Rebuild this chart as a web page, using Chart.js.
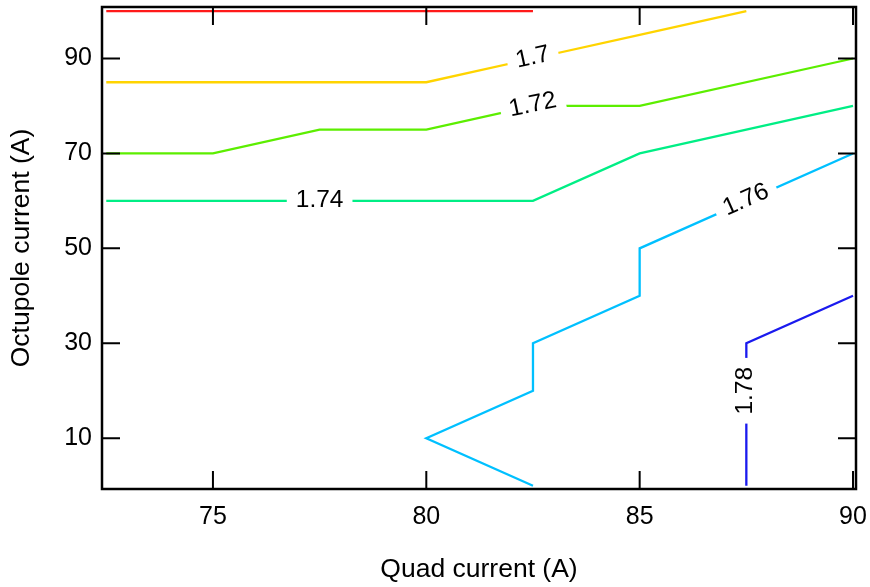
<!DOCTYPE html>
<html>
<head>
<meta charset="utf-8">
<script src="https://cdn.jsdelivr.net/npm/chart.js@4.4.1/dist/chart.umd.min.js"></script>
<style>
  html, body { margin: 0; padding: 0; background: #fff; }
  #wrap { width: 870px; height: 587px; }
</style>
</head>
<body>
<div id="wrap"><canvas id="c" width="870" height="587"></canvas></div>
<script>
// Axis tick values
const quadTicks = [75, 80, 85, 90];
const octTicks = [10, 30, 50, 70, 90];

// Contour levels and their polylines (quad current, octupole current)
const levels = ['1.68', '1.7', '1.72', '1.74', '1.76', '1.78'];
const quad168 = [72.5, 82.5];
const oct168 = [100, 100];
const quad170 = [72.5, 80, 82.5, 85, 87.5];
const oct170 = [85, 85, 90, 95, 100];
const quad172 = [72.5, 75, 77.5, 80, 82.5, 85, 90];
const oct172 = [70, 70, 75, 75, 80, 80, 90];
const quad174 = [72.5, 82.5, 85, 90];
const oct174 = [60, 60, 70, 80];
const quad176 = [82.5, 80, 82.5, 82.5, 85, 85, 90];
const oct176 = [0, 10, 20, 30, 40, 50, 70];
const quad178 = [87.5, 87.5, 90];
const oct178 = [0, 30, 40];

// Inline contour labels
const labelText = ['1.7', '1.72', '1.74', '1.76', '1.78'];
const labelQuad = [82.5, 82.5, 77.5, 87.5, 87.5];
const labelOct = [90, 80, 60, 60, 20];
const labelAngle = [-12.5, -12, 0, -24, -90];

const lineColors = ['#ff1a1a', '#ffd400', '#5cee00', '#00ee85', '#00c0ff', '#1a1aee'];
const FONT = '"Liberation Sans", Arial, Helvetica, sans-serif';

const quadSets = [quad168, quad170, quad172, quad174, quad176, quad178];
const octSets = [oct168, oct170, oct172, oct174, oct176, oct178];

const datasets = levels.map((lv, i) => ({
  label: lv,
  data: quadSets[i].map((q, k) => ({ x: q, y: octSets[i][k] })),
  showLine: true,
  borderColor: lineColors[i],
  borderWidth: 2.3,
  pointRadius: 0,
  tension: 0,
  fill: false
}));

// Gapped, rotated labels along the contours
const contourLabels = {
  id: 'contourLabels',
  afterDatasetsDraw(chart) {
    const { ctx, scales: { x, y } } = chart;
    ctx.save();
    ctx.font = '24.5px ' + FONT;
    ctx.textAlign = 'center';
    ctx.textBaseline = 'middle';
    labelText.forEach((t, i) => {
      const px = x.getPixelForValue(labelQuad[i]);
      const py = y.getPixelForValue(labelOct[i]);
      const w = ctx.measureText(t).width;
      ctx.save();
      ctx.translate(px, py);
      ctx.rotate(labelAngle[i] * Math.PI / 180);
      ctx.fillStyle = '#fff';
      ctx.fillRect(-w / 2 - 9, -11, w + 18, 22);
      ctx.fillStyle = '#000';
      ctx.fillText(t, 0, -1);
      ctx.restore();
    });
    ctx.restore();
  }
};

// Box frame with inward ticks on all four sides
const frame = {
  id: 'frame',
  afterDraw(chart) {
    const { ctx, chartArea: a, scales: { x, y } } = chart;
    const len = 18;
    ctx.save();
    ctx.strokeStyle = '#000';
    ctx.lineWidth = 2;
    ctx.beginPath();
    x.ticks.forEach(t => {
      const px = x.getPixelForValue(t.value);
      ctx.moveTo(px, a.bottom); ctx.lineTo(px, a.bottom - len);
      ctx.moveTo(px, a.top); ctx.lineTo(px, a.top + len);
    });
    y.ticks.forEach(t => {
      const py = y.getPixelForValue(t.value);
      ctx.moveTo(a.left, py); ctx.lineTo(a.left + len, py);
      ctx.moveTo(a.right, py); ctx.lineTo(a.right - len, py);
    });
    ctx.stroke();
    ctx.lineWidth = 2.5;
    ctx.strokeRect(a.left, a.top, a.right - a.left, a.bottom - a.top);
    ctx.restore();
  }
};

const noPad = s => { s.paddingTop = 0; s.paddingBottom = 0; s.paddingLeft = 0; s.paddingRight = 0; };

new Chart(document.getElementById('c'), {
  type: 'scatter',
  data: { datasets },
  options: {
    responsive: false,
    animation: false,
    devicePixelRatio: 1,
    layout: { padding: { top: 7, right: 14, left: 0, bottom: 0 } },
    plugins: { legend: { display: false }, tooltip: { enabled: false } },
    scales: {
      x: {
        type: 'linear',
        min: 72.4,
        max: 90.07,
        grid: { display: false, drawTicks: false },
        border: { display: false },
        afterBuildTicks: s => { s.ticks = quadTicks.map(v => ({ value: v })); },
        afterFit: s => { s.height = 98; noPad(s); },
        ticks: { color: '#000', font: { family: FONT, size: 25 }, padding: 13, maxRotation: 0 },
        title: { display: true, text: 'Quad current (A)', color: '#000', font: { family: FONT, size: 26.5 }, padding: { top: 0, bottom: 1 } }
      },
      y: {
        type: 'linear',
        min: -0.7,
        max: 100.85,
        grid: { display: false, drawTicks: false },
        border: { display: false },
        afterBuildTicks: s => { s.ticks = octTicks.map(v => ({ value: v })); },
        afterFit: s => { s.width = 102; noPad(s); },
        ticks: { color: '#000', font: { family: FONT, size: 25 }, padding: 10 },
        title: { display: true, text: 'Octupole current (A)', color: '#000', font: { family: FONT, size: 26.5 }, padding: { top: 6, bottom: 0 } }
      }
    }
  },
  plugins: [contourLabels, frame]
});
</script>
</body>
</html>
